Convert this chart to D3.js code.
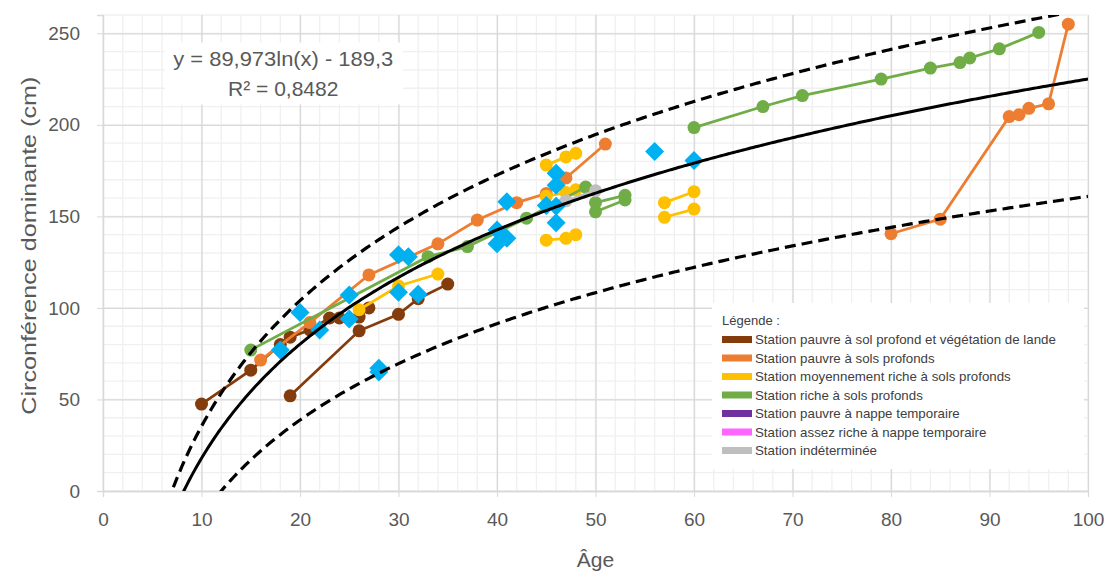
<!DOCTYPE html>
<html>
<head>
<meta charset="utf-8">
<script src="https://cdn.jsdelivr.net/npm/d3@7"></script>
<style>
  body { margin: 0; background: #fff; }
  svg { font-family: "Liberation Sans", "DejaVu Sans", sans-serif; }
</style>
</head>
<body>
<div id="chart"></div>
<script>
// x ticks / y ticks
const xTicks = [0, 10, 20, 30, 40, 50, 60, 70, 80, 90, 100];
const yTicks = [0, 50, 100, 150, 200, 250];

// Station pauvre à sol profond et végétation de lande
const brownLines = [
  [[10, 47.5], [15, 66], [18, 80], [19, 84], [21, 88], [23, 94.5], [24, 94.5], [26, 95], [27, 100]],
  [[19, 52], [26, 87.5], [30, 96.5], [32, 105], [35, 113]]
];
// Station pauvre à sols profonds
const orangeLines = [
  [[16, 71.5], [21, 92], [27, 118], [34, 135], [38, 148], [42, 157.5], [45, 162.5], [47, 171], [51, 189.5]],
  [[80, 140.5], [85, 148.5], [92, 204.5], [93, 205.5], [94, 209], [96, 211.5], [98, 255]]
];
// Station moyennement riche à sols profonds
const yellowLines = [
  [[26, 99], [30, 112], [34, 118.5]],
  [[45, 178], [47, 182.5], [48, 184.5]],
  [[45, 161], [47, 163], [48, 164.5]],
  [[45, 137], [47, 138], [48, 140]],
  [[57, 157.5], [60, 163.5]],
  [[57, 149.5], [60, 154]]
];
// Station riche à sols profonds
const greenLines = [
  [[15, 77], [33, 128], [37, 133.5], [43, 149], [49, 166]],
  [[50, 152.5], [53, 159]],
  [[50, 157.5], [53, 161.5]],
  [[60, 198.5], [67, 210], [71, 216], [79, 225], [84, 231], [87, 234], [88, 236.5], [91, 241.5], [95, 250.5]]
];
// Station indéterminée
const grayLines = [
  [[47, 158.5], [50, 164]]
];
// diamonds (no line)
const bluePoints = [
  [18, 77], [20, 97.5], [22, 88], [25, 107], [25, 94], [28, 67], [28, 65],
  [30, 129], [31, 128], [30, 108.5], [32, 107.5], [40, 142.5], [40, 135], [41, 138],
  [41, 158], [45, 156], [46, 173.5], [46, 167], [46, 155.5], [46, 146.5], [56, 185.5], [60, 180.5]
];

// logarithmic trend and envelope: y = a ln(x) + b
const trendMain = { a: 89.973, b: -189.3 };
const trendUpper = { a: 99, b: -192.6 };
const trendLower = { a: 75.9, b: -188.6 };

const legendLabels = [
  "Station pauvre à sol profond et végétation de lande",
  "Station pauvre à sols profonds",
  "Station moyennement riche à sols profonds",
  "Station riche à sols profonds",
  "Station pauvre à nappe temporaire",
  "Station assez riche à nappe temporaire",
  "Station indéterminée"
];
const legendColors = ["#843C0C", "#ED7D31", "#FFC000", "#70AD47", "#7030A0", "#FF66FF", "#BFBFBF"];

const width = 1110, height = 573;
const margin = { top: 15, right: 22, bottom: 82, left: 103 };
const innerW = width - margin.left - margin.right;
const innerH = height - margin.top - margin.bottom;

const svg = d3.select('#chart').append('svg')
  .attr('width', width)
  .attr('height', height);

const x = d3.scaleLinear().domain([0, 100]).range([0, innerW]);
const y = d3.scaleLinear().domain([0, 260]).range([innerH, 0]);

const g = svg.append('g').attr('transform', `translate(${margin.left},${margin.top})`);

svg.append('defs').append('clipPath').attr('id', 'plotclip')
  .append('rect').attr('x', 0).attr('y', 0).attr('width', innerW).attr('height', innerH);

/* minor gridlines */
g.append('g')
  .selectAll('line.vminor')
  .data(d3.range(0, 101, 2))
  .join('line')
  .attr('x1', d => x(d)).attr('x2', d => x(d))
  .attr('y1', 0).attr('y2', innerH)
  .attr('stroke', '#F0F0F0').attr('stroke-width', 1.3);
g.append('g')
  .selectAll('line.hminor')
  .data(d3.range(0, 261, 10))
  .join('line')
  .attr('y1', d => y(d)).attr('y2', d => y(d))
  .attr('x1', 0).attr('x2', innerW)
  .attr('stroke', '#F0F0F0').attr('stroke-width', 1.3);

/* major gridlines */
g.append('g')
  .attr('transform', `translate(0,${innerH})`)
  .call(d3.axisBottom(x).tickValues(xTicks).tickSize(-innerH).tickFormat(''))
  .call(s => s.select('.domain').remove())
  .selectAll('line').attr('stroke', '#D9D9D9').attr('stroke-width', 1.3);
g.append('g')
  .call(d3.axisLeft(y).tickValues(yTicks).tickSize(-innerW).tickFormat(''))
  .call(s => s.select('.domain').remove())
  .selectAll('line').attr('stroke', '#D9D9D9').attr('stroke-width', 1.3);

/* axes */
const xAxis = g.append('g')
  .attr('transform', `translate(0,${innerH})`)
  .call(d3.axisBottom(x).tickValues(xTicks).tickSize(6).tickPadding(16));
xAxis.select('.domain').attr('stroke', '#D9D9D9').attr('stroke-width', 1.3);
xAxis.selectAll('line').attr('stroke', '#D9D9D9');
xAxis.selectAll('text').attr('fill', '#595959').style('font-size', '19px');

const yAxis = g.append('g')
  .call(d3.axisLeft(y).tickValues(yTicks).tickSize(6).tickPadding(17));
yAxis.select('.domain').attr('stroke', '#D9D9D9').attr('stroke-width', 1.3);
yAxis.selectAll('line').attr('stroke', '#D9D9D9');
yAxis.selectAll('text').attr('fill', '#595959').style('font-size', '19px');

/* axis titles */
svg.append('text')
  .text('Âge')
  .attr('x', margin.left + x(50))
  .attr('y', 567)
  .attr('text-anchor', 'middle')
  .attr('fill', '#595959')
  .style('font-size', '21px');

svg.append('text')
  .text('Circonférence dominante (cm)')
  .attr('transform', `translate(36,${margin.top + y(134)}) rotate(-90)`)
  .attr('text-anchor', 'middle')
  .attr('textLength', 338)
  .attr('lengthAdjust', 'spacingAndGlyphs')
  .attr('fill', '#595959')
  .style('font-size', '21px');

/* trend curves */
const plot = g.append('g').attr('clip-path', 'url(#plotclip)');
const xs = d3.range(5, 100.01, 0.25);
const curve = t => d3.line()
  .x(d => x(d))
  .y(d => y(t.a * Math.log(d) + t.b))(xs);

/* data series */
const line = d3.line().x(d => x(d[0])).y(d => y(d[1]));

function drawSeries(lines, color) {
  lines.forEach(pts => {
    plot.append('path')
      .datum(pts)
      .attr('d', line)
      .attr('fill', 'none')
      .attr('stroke', color)
      .attr('stroke-width', 2.75);
    plot.append('g')
      .selectAll('circle')
      .data(pts)
      .join('circle')
      .attr('cx', d => x(d[0]))
      .attr('cy', d => y(d[1]))
      .attr('r', 6.5)
      .attr('fill', color);
  });
}

drawSeries(brownLines, legendColors[0]);
drawSeries(orangeLines, legendColors[1]);
drawSeries(yellowLines, legendColors[2]);
drawSeries(greenLines, legendColors[3]);
drawSeries(grayLines, legendColors[6]);

plot.append('g')
  .selectAll('path')
  .data(bluePoints)
  .join('path')
  .attr('transform', d => `translate(${x(d[0])},${y(d[1])})`)
  .attr('d', 'M0,-9.5L9.5,0L0,9.5L-9.5,0Z')
  .attr('fill', '#00B0F0');

plot.append('path').attr('d', curve(trendMain))
  .attr('fill', 'none').attr('stroke', '#000').attr('stroke-width', 3);
plot.append('path').attr('d', curve(trendUpper))
  .attr('fill', 'none').attr('stroke', '#000').attr('stroke-width', 3.2)
  .attr('stroke-dasharray', '11,6');
plot.append('path').attr('d', curve(trendLower))
  .attr('fill', 'none').attr('stroke', '#000').attr('stroke-width', 3.2)
  .attr('stroke-dasharray', '11,6');

/* equation label */
g.append('rect')
  .attr('x', x(6.3)).attr('y', y(245))
  .attr('width', 238).attr('height', 62)
  .attr('fill', '#fff');
g.append('text')
  .text('y = 89,973ln(x) - 189,3')
  .attr('x', x(18.3)).attr('y', y(232))
  .attr('text-anchor', 'middle')
  .attr('textLength', 220)
  .attr('lengthAdjust', 'spacingAndGlyphs')
  .attr('fill', '#595959')
  .style('font-size', '21px');
g.append('text')
  .text('R² = 0,8482')
  .attr('x', x(18.3)).attr('y', y(216))
  .attr('text-anchor', 'middle')
  .attr('fill', '#595959')
  .style('font-size', '21px');

/* legend */
const lg = svg.append('g').attr('transform', 'translate(712,303)');
lg.append('rect')
  .attr('width', 372).attr('height', 166)
  .attr('fill', '#fff');
lg.append('text')
  .text('Légende :')
  .attr('x', 10).attr('y', 22)
  .attr('fill', '#404040')
  .style('font-size', '13px');
legendLabels.forEach((lab, i) => {
  const yy = 35 + i * 18.5;
  lg.append('rect')
    .attr('x', 10).attr('y', yy - 2)
    .attr('width', 30).attr('height', 7)
    .attr('fill', legendColors[i]);
  lg.append('text')
    .text(lab)
    .attr('x', 43).attr('y', yy + 6)
    .attr('fill', '#404040')
    .style('font-size', '13.3px');
});
</script>
</body>
</html>
